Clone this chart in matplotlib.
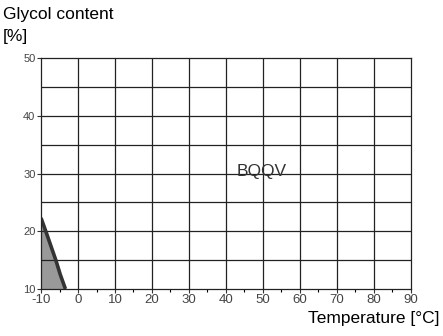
import matplotlib

matplotlib.use("Agg")
import matplotlib.pyplot as plt
import numpy as np

plt.rcParams["font.family"] = ["Liberation Sans", "DejaVu Sans"]
plt.rcParams["axes.unicode_minus"] = False

# boundary curve of the shaded region (temperature, glycol %)
curve_temp = [-10.0, -8.6, -7.3, -6.0, -4.8, -3.4]
curve_glycol = [22.3, 19.8, 17.4, 15.0, 12.5, 10.0]

x_major = [-10, 0, 10, 20, 30, 40, 50, 60, 70, 80, 90]
y_major = [10, 20, 30, 40, 50]
y_grid = [15, 25, 35, 45]

fig = plt.figure(figsize=(4.43, 3.36), dpi=100)
ax = fig.add_axes([0.0926, 0.140, 0.835, 0.687])

ax.fill_betweenx(curve_glycol, -10, curve_temp, color="#999999", lw=0)
ax.plot(curve_temp, curve_glycol, color="#333333", lw=2.6, solid_capstyle="butt")

ax.set_xlim(-10, 90)
ax.set_ylim(10, 50)
ax.set_xticks(x_major)
ax.set_xticks(np.arange(-5, 90, 10), minor=True)
ax.set_yticks(y_major)
ax.set_yticks(y_grid, minor=True)
ax.tick_params(axis="x", labelsize=9.5, length=3, width=0.8, colors="#333333",
               labelcolor="#444444", pad=0.5)
ax.tick_params(axis="x", which="minor", length=2.5, width=0.8)
ax.tick_params(axis="y", labelsize=8, length=3, width=0.8, colors="#333333",
               labelcolor="#444444", pad=1)
ax.tick_params(axis="y", which="minor", length=0)

for v in x_major[1:-1]:
    ax.axvline(v, color="#222222", lw=0.9, zorder=1)
for v in y_major[1:-1] + y_grid:
    ax.axhline(v, color="#222222", lw=0.9, zorder=1)

for s in ax.spines.values():
    s.set_color("#222222")
    s.set_linewidth(0.9)

ax.text(49.7, 30.3, "BQQV", fontsize=12.5, color="#333333", ha="center", va="center")

fig.text(3 / 443, 1 - 15 / 336, "Glycol content", fontsize=12.5, va="center", ha="left")
fig.text(3 / 443, 1 - 36 / 336, "[%]", fontsize=12.5, va="center", ha="left")
fig.text(440 / 443, 1 - 318 / 336, "Temperature [°C]", fontsize=12.5, va="center", ha="right")

fig.savefig("out.png", dpi=100)
